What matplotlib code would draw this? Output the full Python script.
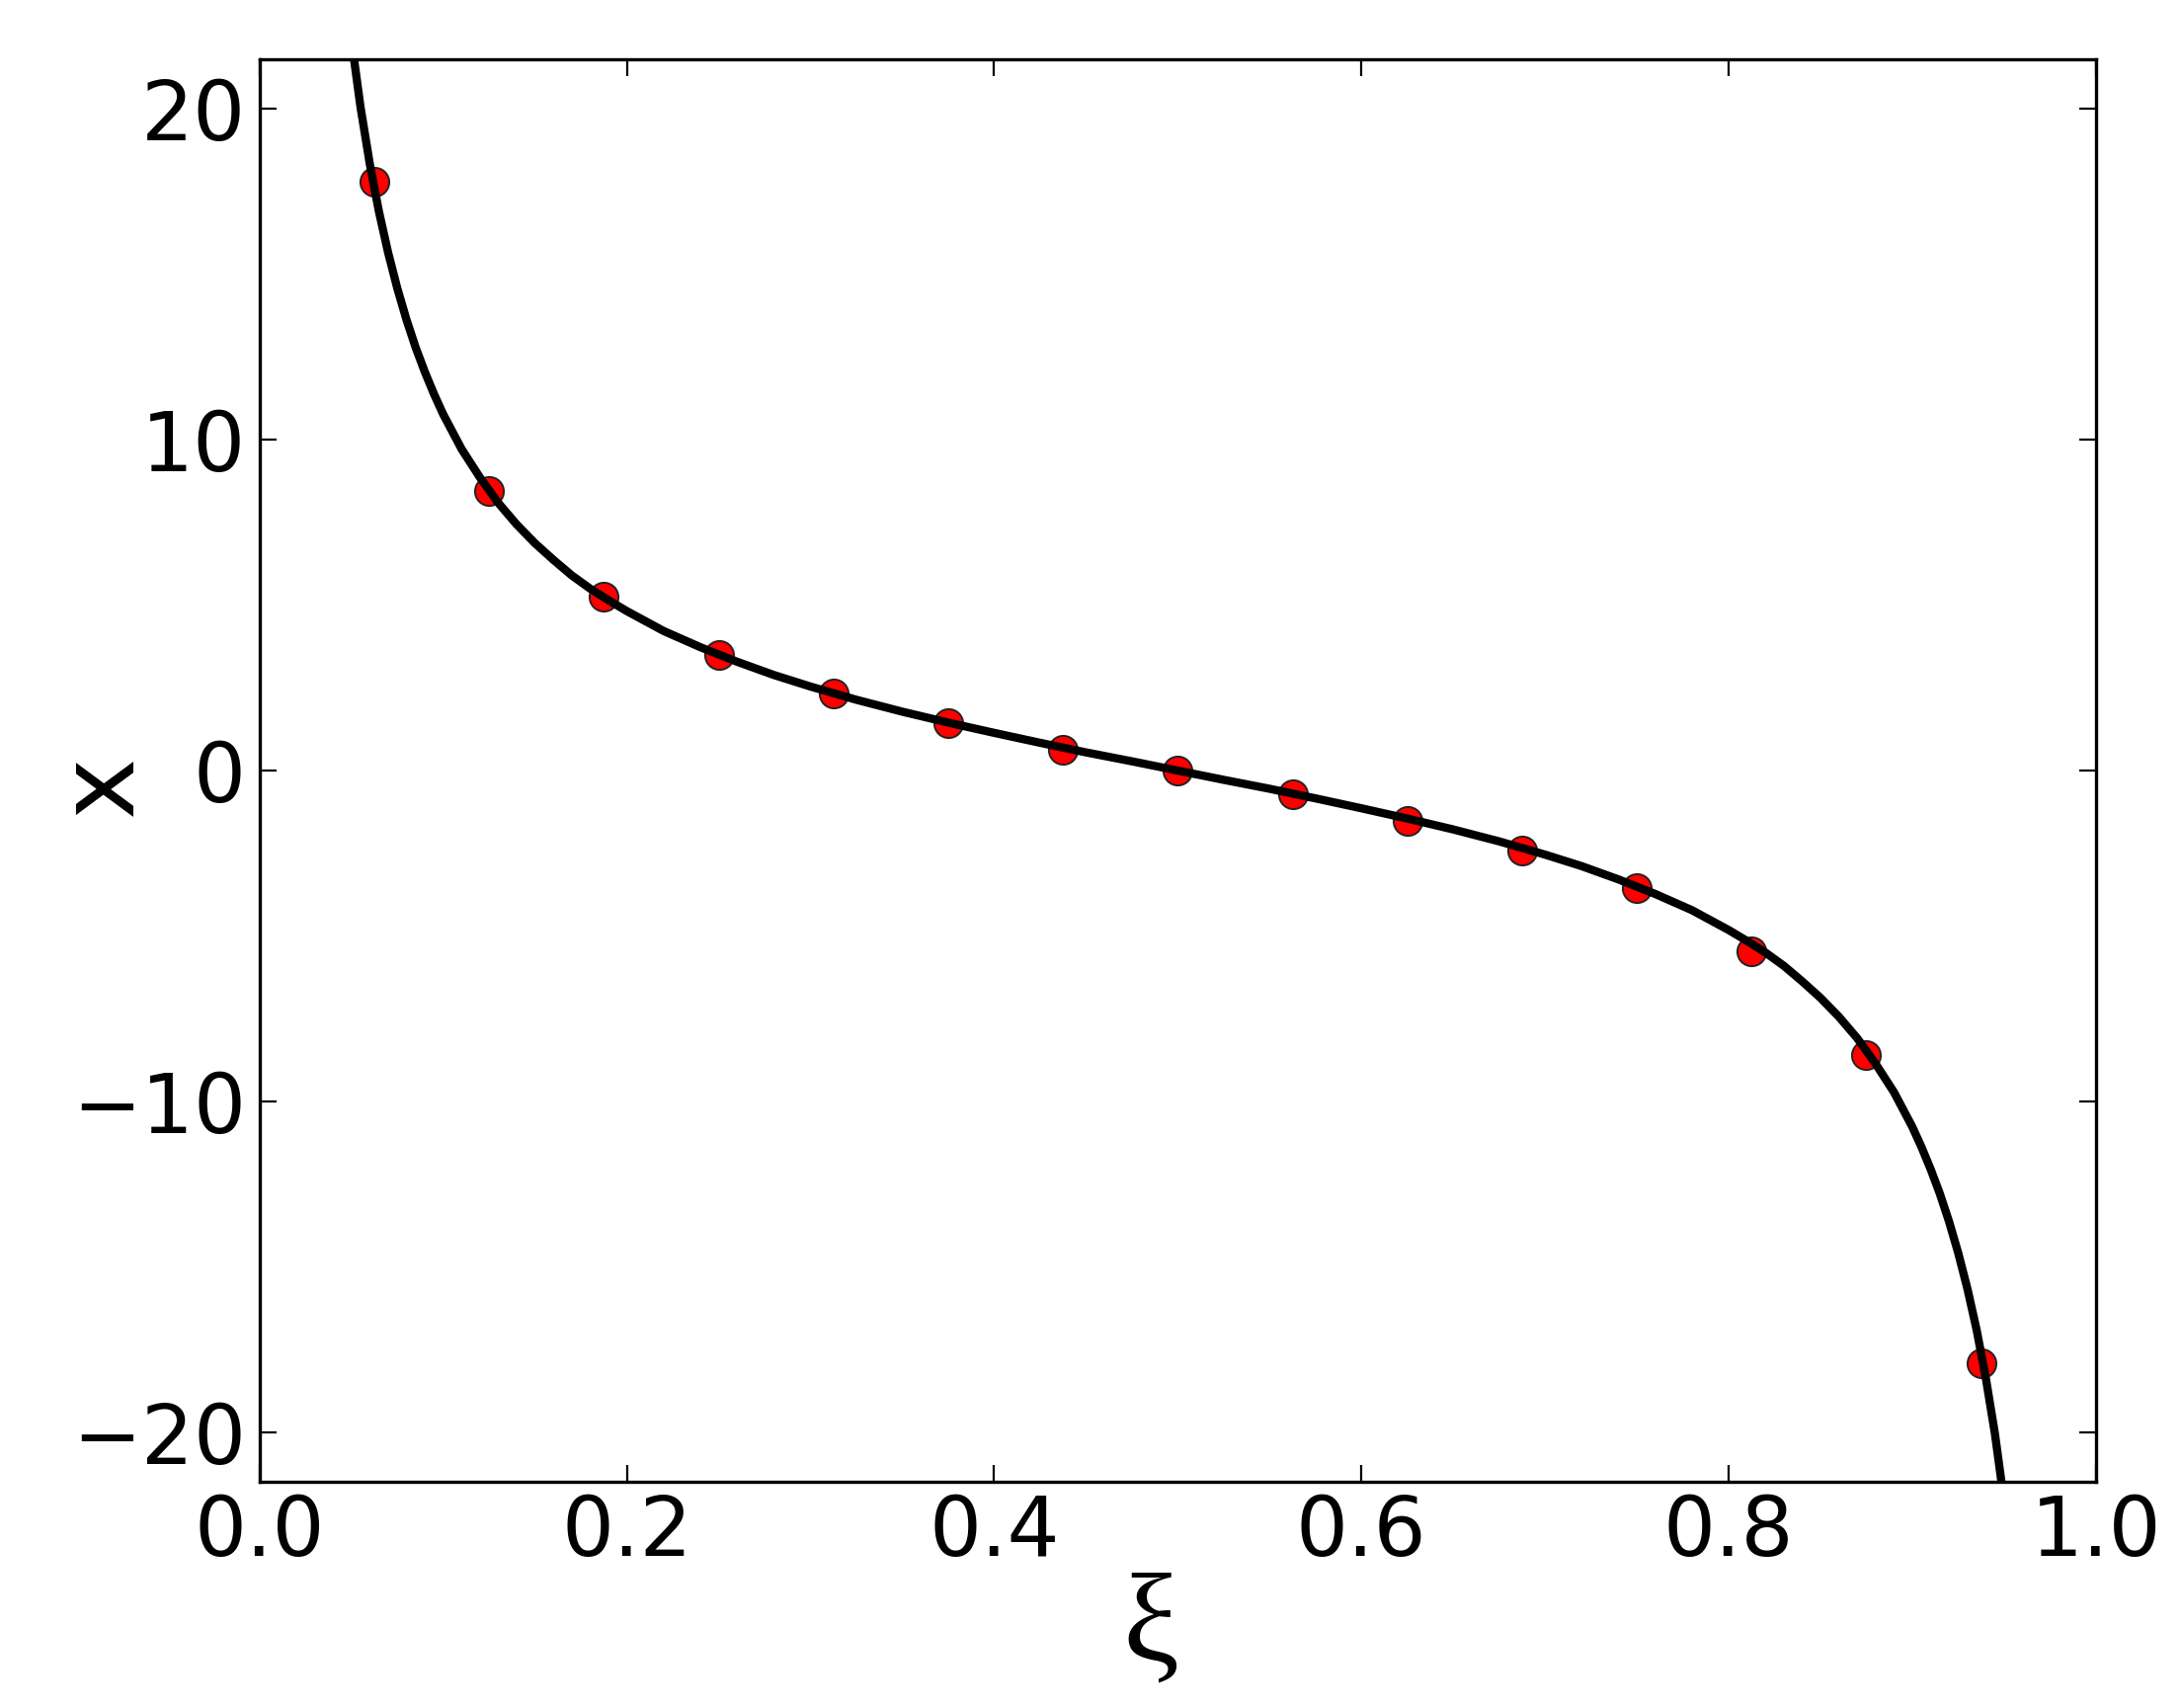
import matplotlib.pyplot as plt
import numpy as np

# sampled points (red markers)
xi_pts = [0.0625, 0.125, 0.1875, 0.25, 0.3125, 0.375, 0.4375, 0.5,
          0.5625, 0.625, 0.6875, 0.75, 0.8125, 0.875, 0.9375]
x_pts = [17.8, 8.45, 5.26, 3.48, 2.33, 1.42, 0.62, 0.0,
         -0.72, -1.52, -2.42, -3.55, -5.45, -8.6, -17.9]

# solid curve, values
xi_curve = [0.05, 0.055, 0.06, 0.065, 0.07, 0.075, 0.08, 0.085, 0.09, 0.095, 0.10,
            0.11, 0.12, 0.13, 0.14, 0.15, 0.16, 0.17, 0.18, 0.19, 0.20,
            0.22, 0.24, 0.26, 0.28, 0.30, 0.325, 0.35, 0.375, 0.40, 0.425, 0.45, 0.475,
            0.50,
            0.525, 0.55, 0.575, 0.60, 0.625, 0.65, 0.675, 0.70, 0.72, 0.74, 0.76, 0.78,
            0.80, 0.81, 0.82, 0.83, 0.84, 0.85, 0.86, 0.87, 0.88, 0.89,
            0.90, 0.905, 0.91, 0.915, 0.92, 0.925, 0.93, 0.935, 0.94, 0.945, 0.95]
x_curve = [22.10, 20.05, 18.35, 16.90, 15.66, 14.58, 13.63, 12.79, 12.05, 11.38, 10.77,
           9.72, 8.86, 8.09, 7.44, 6.87, 6.37, 5.90, 5.50, 5.15, 4.82,
           4.22, 3.73, 3.29, 2.89, 2.54, 2.14, 1.78, 1.45, 1.14, 0.84, 0.55, 0.28,
           0.0,
           -0.28, -0.55, -0.84, -1.14, -1.45, -1.78, -2.14, -2.54, -2.89, -3.29, -3.73, -4.22,
           -4.82, -5.15, -5.50, -5.90, -6.37, -6.87, -7.44, -8.09, -8.86, -9.72,
           -10.77, -11.38, -12.05, -12.79, -13.63, -14.58, -15.66, -16.90, -18.35, -20.05, -22.10]

plt.rcParams['font.family'] = ['DejaVu Sans']

fig = plt.figure(figsize=(11.04, 8.645), dpi=200)
ax = fig.add_axes([0.119, 0.1324, 0.842, 0.8329])

ax.plot(xi_pts, x_pts, 'o', color='red', markersize=10.5, markeredgecolor='#222222',
        markeredgewidth=0.7, zorder=2)
ax.plot(xi_curve, x_curve, color='black', lw=3.0, zorder=3)

ax.set_xlim(0, 1)
ax.set_ylim(-21.5, 21.5)
ax.set_xticks([0.0, 0.2, 0.4, 0.6, 0.8, 1.0])
ax.set_yticks([-20, -10, 0, 10, 20])
ax.set_yticklabels(['\u221220', '\u221210', '0', '10', '20'])

ax.tick_params(direction='in', length=6, width=0.8, top=True, right=True,
               labelsize=30)
ax.tick_params(axis='x', pad=4)
ax.tick_params(axis='y', pad=5)
for s in ax.spines.values():
    s.set_linewidth(1.2)

ax.set_xlabel('\u03be', fontsize=46, family=['Liberation Serif', 'DejaVu Serif'])
ax.xaxis.set_label_coords(0.485, -0.064)
ax.set_ylabel('x', fontsize=38)
ax.yaxis.set_label_coords(-0.058, 0.49)

fig.savefig('out.png', dpi=200)
